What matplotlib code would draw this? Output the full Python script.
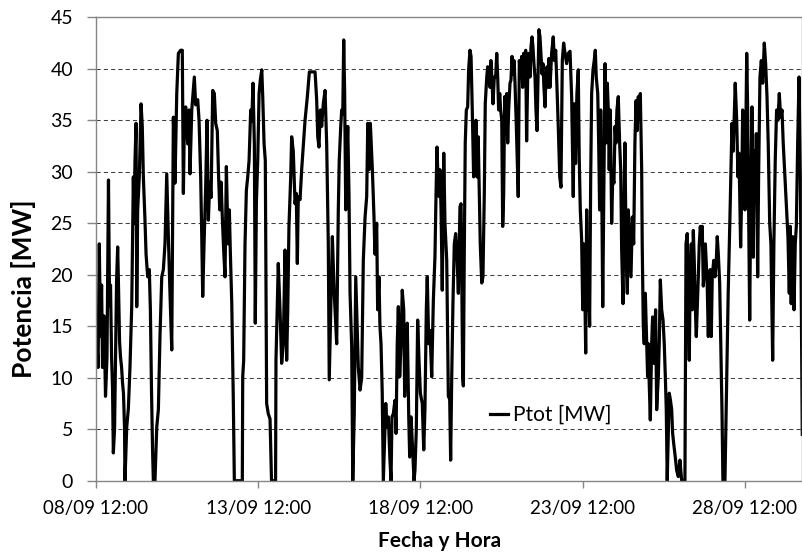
import matplotlib
matplotlib.use("Agg")
import matplotlib.pyplot as plt
import matplotlib.dates as mdates
import pandas as pd

# Series start (first x tick) and readings: hours after start, power in MW
START = pd.Timestamp("2011-09-08 12:00")
END_HOURS = 522.4

HOURS = [
    0.7, 1.5, 2.4, 3.3, 4.1, 4.8, 5.9, 7.0, 8.1, 9.2, 10.0, 10.7, 11.5, 12.2, 12.8, 13.7,
    14.4, 15.2, 16.0, 16.6, 17.4, 18.1, 18.9, 19.6, 20.3, 21.1, 21.4, 22.7, 23.9, 25.1, 26.4,
    27.6, 28.1, 28.8, 29.6, 30.1, 30.8, 32.0, 33.3, 34.2, 35.0, 36.2, 37.0, 38.2, 39.4, 40.2,
    41.0, 41.8, 42.4, 43.6, 44.9, 46.1, 47.3, 48.6, 49.8, 51.0, 52.3, 53.5, 54.7, 56.0, 57.2,
    58.4, 59.7, 60.9, 62.6, 63.8, 64.6, 65.3, 66.3, 67.8, 68.8, 69.5,
    70.8, 72.7, 73.7, 75.2, 76.2, 77.4, 78.2, 78.9, 79.9, 81.1, 82.1, 83.1, 84.1, 85.1, 86.3,
    87.5, 88.5, 89.7, 90.5, 91.5, 92.5, 93.4, 94.4, 95.4, 96.4, 97.1, 97.8, 98.6, 99.3, 100.4,
    101.5, 102.3, 108.2, 108.5, 109.2, 110.2, 111.2, 112.2, 113.2, 114.4, 115.2, 116.1, 117.1,
    117.8, 118.6, 119.6, 120.6, 121.5, 122.6, 123.3, 124.3, 125.2, 126.2, 127.4, 128.7, 129.8,
    132.8,
    133.1, 134.8, 136.1, 137.3, 138.5, 139.8, 141.0, 141.8, 142.7, 144.0, 144.7, 145.9, 147.2,
    148.1, 148.9, 149.6, 150.9, 152.1, 154.6, 156.3, 157.8, 162.0, 163.2, 164.0, 164.9, 165.9,
    166.9, 168.1, 169.4, 170.6, 171.8, 172.5, 173.6, 174.8, 176.2, 178.0, 179.2, 179.9, 181.0,
    181.7, 182.5, 183.2, 183.9, 184.7, 185.4, 186.2, 187.1, 187.9, 189.1, 189.9, 191.0, 192.1,
    193.0, 194.0, 195.3, 196.5, 197.7, 199.0, 200.2, 201.0,
    201.9, 202.9, 204.4, 205.6, 206.3, 207.6, 208.3, 209.3, 210.0, 210.8, 211.7, 212.5, 214.3,
    215.2, 216.2, 217.4, 218.2, 218.9, 219.9, 221.1, 221.9, 222.8, 223.6, 224.6, 225.6, 226.5,
    227.6, 228.3, 229.3, 230.2, 231.3, 232.0, 233.0, 234.2, 235.2, 235.9, 236.9, 237.9, 238.9,
    239.9, 241.3, 242.4, 243.3, 244.3, 245.0, 246.1, 247.0, 248.3, 249.5, 250.7, 251.5, 252.2,
    252.9, 253.7, 254.4, 255.2, 256.1, 257.2, 258.1, 259.4, 260.6, 261.6, 262.3, 263.1, 264.0,
    265.0, 266.0, 267.0, 268.0, 268.7, 269.2,
    270.0, 270.5, 271.2, 271.7, 272.4, 273.1, 273.9, 274.9, 275.6, 276.6, 277.4, 278.3, 279.3,
    280.3, 281.0, 281.8, 282.7, 283.5, 284.2, 285.3, 286.2, 287.2, 287.9, 289.0, 289.7, 290.4,
    291.4, 292.1, 292.9, 293.6, 294.6, 295.6, 296.4, 297.1, 297.8, 298.6, 299.3, 300.1, 300.8,
    301.5, 302.3, 303.0, 303.8, 304.5, 305.2, 306.2, 306.9, 307.7, 308.4, 309.2, 309.9, 310.9,
    311.6, 312.3, 313.1, 314.1, 314.8, 315.6, 316.3, 317.1, 317.8, 318.5, 319.3, 320.0, 321.0,
    321.7, 322.5, 323.2, 323.9, 324.7, 325.4, 326.2, 326.9, 327.6, 328.4, 329.1, 329.9, 330.6,
    331.3, 332.1, 332.8, 333.6, 334.3, 335.0, 335.8,
    337.0, 338.2, 339.0, 340.0, 340.7, 341.9, 343.0, 343.9, 344.9, 345.9, 346.9, 348.1, 349.3,
    350.6, 351.8, 353.0, 353.7, 354.7, 355.7, 356.7, 357.4, 358.2, 359.2, 360.0, 360.7, 361.4,
    362.2, 362.9, 363.7, 364.4, 365.1, 365.9, 366.6, 367.6, 368.5, 369.3, 370.0, 371.1, 371.8,
    372.5, 373.3, 374.0, 374.8, 375.5, 376.5, 377.2, 378.2, 378.9, 379.6, 380.4, 381.4, 382.2,
    383.1, 383.9, 384.6, 385.3, 386.3, 387.3, 388.1, 388.8, 389.8, 390.5, 391.2, 392.2, 393.0,
    393.7, 394.7, 395.7, 396.7, 397.7, 398.6, 399.4, 400.3, 401.1, 401.8, 402.6,
    403.1, 403.6, 404.0, 404.8, 405.5, 406.3, 407.3, 408.0, 408.5, 409.2, 410.0, 411.0, 411.7,
    412.5, 413.2, 413.9, 414.7, 415.9, 416.6, 417.4, 418.4, 419.4, 420.3, 421.1, 421.8, 422.5,
    424.0, 424.8, 425.8, 426.5, 427.3, 428.2, 429.5, 430.7, 431.9, 433.2, 435.6, 436.4, 437.3,
    438.1, 438.8, 439.5, 440.3, 441.0, 441.8, 442.5, 443.2, 444.0, 444.7, 445.5, 446.2, 447.0,
    447.7, 448.4, 449.2, 449.9, 450.7, 451.4, 452.1, 452.9, 453.6, 454.3, 455.1, 455.8, 456.9,
    457.8, 458.8, 459.5, 460.3, 461.3, 462.3, 463.0, 463.7, 465.2,
    466.5, 467.6, 468.9, 470.4, 471.3, 472.8, 473.9, 474.8, 475.6, 476.8, 477.6, 478.3, 479.3,
    480.0, 481.3, 482.0, 482.4, 483.5, 484.2, 485.2, 486.1, 486.9, 487.6, 488.4, 489.4, 490.1,
    491.1, 492.1, 493.1, 494.3, 495.3, 496.3, 497.2, 498.3, 499.2, 500.5, 501.4, 502.4, 503.4,
    504.4, 505.4, 506.4, 507.4, 508.3, 509.6, 510.8, 511.8, 512.8, 513.5, 514.2, 515.3, 516.3,
    517.2, 518.0, 519.0, 520.0, 521.0, 522.0, 522.4,
]

POWER = [
    13.5, 11, 23, 14, 19, 11, 16, 8.2, 12, 29.2, 17, 19, 12, 9, 2.7, 5,
    12, 19.5, 22.7, 19, 13.5, 12, 11, 9.5, 8.5, 5, 0, 5.2, 7, 11, 17,
    29.5, 25, 31, 34.7, 16.9, 26.3, 29.5, 36.6, 34.4, 29.5, 25.3, 22, 19.8, 20.5, 16.6,
    9, 3, 0, 0, 5.2, 6.9, 14, 19.8, 20.5, 23, 29.8, 23.7, 18.2, 12.7, 35.3,
    28.9, 37.6, 41.5, 41.8, 41.8, 27.9, 34.4, 36.3, 32.7, 36, 29.8,
    36, 39.2, 36.5, 37, 35, 29.5, 23.7, 17.9, 23, 28.5, 35, 25.3, 29, 27.5, 37.9,
    37.6, 34.7, 34, 30.2, 26.3, 29, 25.6, 22.4, 19.8, 30.5, 26.3, 23, 26.3, 22.4, 17.2,
    8.2, 0, 0, 10.1, 11.7, 23, 28.2, 29.5, 31.1, 36, 34.9, 38.6, 32.7,
    15.3, 27, 31.1, 37.6, 38.9, 39.9, 37.3, 32.7, 31.1, 7.5, 6.5, 6, 0,
    0,
    11.7, 21.1, 16.5, 11.4, 13.3, 22.4, 11.7, 16.5, 24.7, 29.5, 33.4, 32, 26.9,
    27.9, 21.1, 27.6, 27.3, 30.2, 35, 37.3, 39.7, 39.7, 37, 33.4, 32.4, 36,
    34.4, 36.6, 37.9, 32.7, 23, 9.8, 16.5, 23.7, 18.2, 13.3, 26.3, 31.1, 34.4,
    36, 35.6, 42.8, 37.6, 26.3, 31.1, 34.4, 27.9, 18.2, 13, 0, 6.5, 19.8,
    15.8, 11, 8.8, 10, 21.4, 25.6, 27.6, 34.7,
    30.2, 34.7, 30.2, 25.6, 22, 25, 16.6, 19.8, 15, 13.3, 8.5, 0, 7.5,
    5.2, 6.2, 2, 0, 6.2, 6.5, 7.8, 4.6, 13.3, 16.9, 10.1, 13.3, 18.5,
    16.6, 8.2, 13.3, 15.3, 6.2, 2.3, 6.2, 3, 0, 1, 5, 15.6, 11.7,
    8.5, 7.5, 3, 7, 16.6, 19.8, 13.3, 14.6, 10.1, 17.5, 21.8, 27.9, 32.4,
    29.5, 27.6, 30.2, 26.3, 18.5, 31.8, 25, 21.4, 8.2, 7.9, 2, 10.1, 17.2,
    23, 24, 21.8, 18.2, 23, 26.6,
    26.9, 20, 10.1, 9.2, 22.4, 32.8, 36, 36.3, 39.9, 41.8, 41.2, 36, 29.5,
    30.2, 35, 29.5, 33.4, 27.6, 23, 19.2, 19.8, 27.9, 36.6, 39.2, 40.2, 39.2,
    38.2, 40.8, 38.9, 36.6, 39.2, 39.2, 41.5, 39.2, 36, 37.6, 36, 35, 24.7,
    27.6, 37.3, 36.3, 37.6, 32.8, 36, 38.6, 38.9, 41.2, 39.5, 40.8, 38.6, 34.4,
    31.1, 27.6, 40.8, 39.2, 41.2, 38.2, 41.5, 40.8, 41.8, 33, 39.2, 41.5, 39.2,
    42.1, 43.1, 42.1, 40.5, 39.2, 36, 34, 39.2, 43.8, 43.1, 41.5, 39.5, 40.5,
    38.2, 36.3, 39.2, 40.2, 38.2, 41, 38.2,
    41.5, 43.1, 40.8, 41.8, 39.2, 34.4, 29.5, 28.5, 40.8, 42.5, 41.5, 40.5, 41.5,
    41.7, 37.3, 27.6, 36.6, 30.8, 37.6, 39.9, 31.4, 26.3, 23.4, 16.6, 23, 19.8,
    12.4, 26.3, 16.6, 19.8, 15, 29.5, 37.6, 39.9, 40.8, 41.8, 39.2, 37.6, 32.8,
    26.3, 36, 29.5, 16.9, 26.3, 40.5, 32.8, 38.6, 36, 30.2, 36, 25, 29.5,
    28.9, 34.4, 32.8, 36, 37.3, 32.8, 30.2, 22.4, 17.2, 26.3, 32.8, 21.4, 18.2,
    26.3, 23, 19.8, 25.6, 23, 32.8, 36.9, 34, 37.3, 36, 37.6,
    33.7, 30.2, 23, 15, 13.3, 18.2, 13.3, 10.1, 13.3, 9.4, 5.9, 13.3, 15.9,
    11.4, 13.3, 16.6, 6.9, 10.1, 13.3, 19.5, 16.6, 15.6, 13.3, 10.1, 6.9, 0,
    8.5, 7.9, 6.9, 4.6, 3.6, 2.6, 1, 0.4, 2, 0, 0, 23, 24,
    16.6, 11.7, 19.8, 23, 16.6, 24.3, 21.4, 17.2, 14, 16.6, 19.8, 23, 24.7,
    23, 24.7, 18.9, 20.5, 23, 21.1, 18.9, 14, 19.8, 20.5, 14, 19.8, 21.4,
    19.8, 21.4, 23.7, 22, 19.2, 11.7, 6.9, 0, 0,
    10.1, 18.2, 25.6, 34.7, 32, 38.6, 35, 29.5, 31.8, 22.7, 27.9, 36, 32,
    26.3, 41.5, 36, 30.8, 15.6, 26.3, 36.3, 21.7, 32, 27.6, 33.7, 19.8, 29.5,
    39.2, 40.8, 38.6, 42.5, 40.5, 37.3, 32.8, 25, 23, 11.7, 23, 31.1, 36,
    35, 37.6, 35.3, 36, 32.8, 29.5, 26.3, 23.7, 18.2, 24.7, 17.2, 23.7, 16.6,
    23, 24.7, 32.8, 39.2, 29.5, 11.7, 4.5,
]

X_TICKS = ["2011-09-08 12:00", "2011-09-13 12:00", "2011-09-18 12:00",
           "2011-09-23 12:00", "2011-09-28 12:00"]
Y_TICKS = [0, 5, 10, 15, 20, 25, 30, 35, 40, 45]

SERIES_LABEL = "Ptot [MW]"
X_LABEL = "Fecha y Hora"
Y_LABEL = "Potencia [MW]"

AXIS_GRAY = "#868686"
GRID_GRAY = "#404040"


def main():
    plt.rcParams["font.family"] = ["Lato", "DejaVu Sans"]

    times = START + pd.to_timedelta(HOURS, unit="h")

    fig = plt.figure(figsize=(8.03, 5.53), dpi=100)
    ax = fig.add_axes([0.1196, 0.1307, 0.8795, 0.838])

    ax.plot(times, POWER, color="black", linewidth=2.3, label=SERIES_LABEL,
            solid_joinstyle="round")

    ax.set_xlim(START, START + pd.Timedelta(hours=END_HOURS))
    ax.set_ylim(0, 45)
    ax.set_yticks(Y_TICKS)
    ax.set_xticks(pd.to_datetime(X_TICKS))
    ax.xaxis.set_major_formatter(mdates.DateFormatter("%d/%m %H:%M"))

    ax.set_axisbelow(True)
    ax.yaxis.grid(True, linestyle=(0, (4, 3)), color=GRID_GRAY, linewidth=0.75)

    for spine in ax.spines.values():
        spine.set_color(AXIS_GRAY)
        spine.set_linewidth(1.0)

    ax.tick_params(axis="y", direction="out", length=6.5, width=1.0, color=AXIS_GRAY,
                   pad=10, labelsize=14)
    ax.tick_params(axis="x", direction="out", length=4.8, width=1.0, color=AXIS_GRAY,
                   pad=9, labelsize=13.5)

    fig.text(24 / 803, 1 - 289 / 553, Y_LABEL, rotation=90, ha="center", va="center",
             fontsize=19, fontweight="bold")
    fig.text(440 / 803, 1 - 541 / 553, X_LABEL, ha="center", va="center",
             fontsize=15, fontweight="bold")

    ax.legend(loc="center left", bbox_to_anchor=(490 / 803, 1 - 415 / 553),
              bbox_transform=fig.transFigure, frameon=False, borderpad=0,
              borderaxespad=0, handlelength=0.85, handletextpad=0.25, fontsize=15)

    fig.savefig("out.png", dpi=100)


if __name__ == "__main__":
    main()
